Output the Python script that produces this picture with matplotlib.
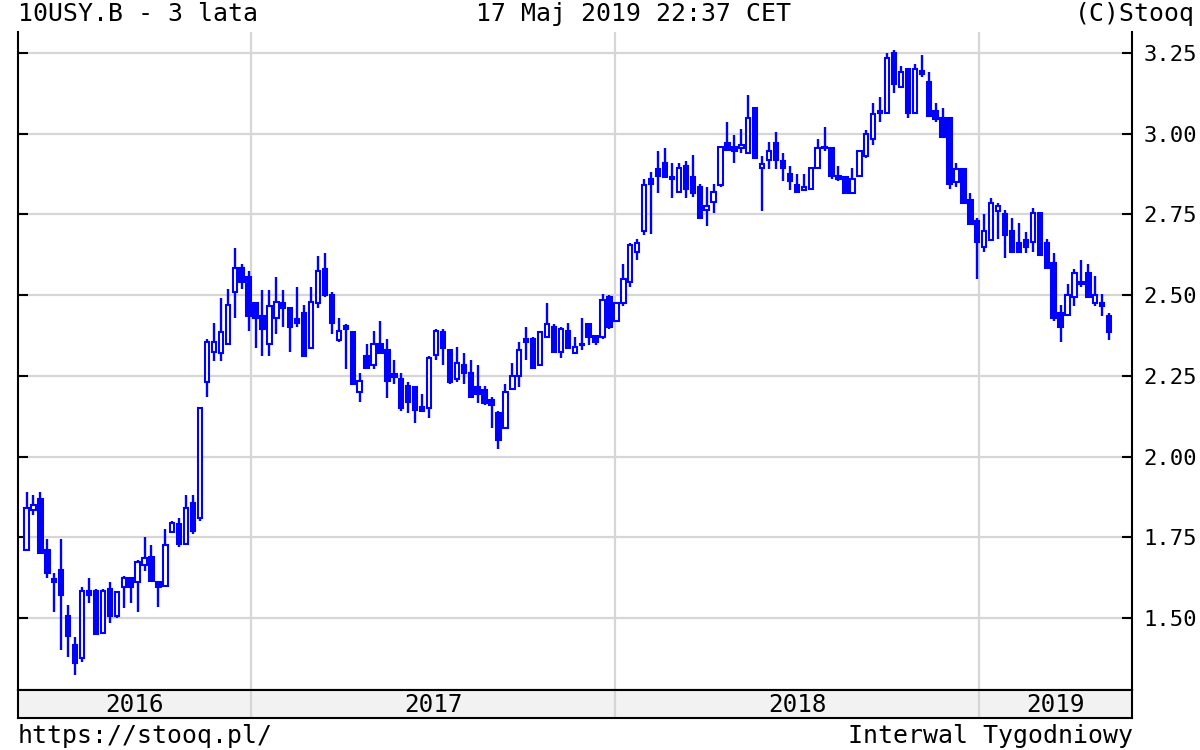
import matplotlib
matplotlib.use("Agg")
import matplotlib.pyplot as plt
import matplotlib.dates as mdates
import numpy as np
import pandas as pd

# weekly candles, 10USY.B (US 10Y yield), 3 years to 17 May 2019
first_week = "2016-05-20"
opens = [
    1.71, 1.835, 1.87, 1.71, 1.62, 1.65, 1.505, 1.415, 1.375, 1.585,
    1.585, 1.455, 1.59, 1.505, 1.595, 1.625, 1.61, 1.665, 1.69, 1.61,
    1.60, 1.765, 1.79, 1.73, 1.855, 1.81, 2.23, 2.325, 2.32, 2.35,
    2.51, 2.585, 2.555, 2.475, 2.435, 2.35, 2.43, 2.475, 2.46, 2.425,
    2.445, 2.335, 2.475, 2.58, 2.50, 2.36, 2.405, 2.385, 2.20, 2.31,
    2.285, 2.35, 2.33, 2.255, 2.24, 2.22, 2.215, 2.155, 2.15, 2.315,
    2.385, 2.33, 2.24, 2.285, 2.26, 2.215, 2.205, 2.175, 2.135, 2.09,
    2.21, 2.25, 2.365, 2.365, 2.285, 2.37, 2.40, 2.325, 2.39, 2.32,
    2.35, 2.41, 2.375, 2.37, 2.495, 2.42, 2.475, 2.54, 2.635, 2.70,
    2.86, 2.89, 2.91, 2.865, 2.82, 2.90, 2.865, 2.835, 2.765, 2.79,
    2.84, 2.97, 2.96, 2.955, 2.94, 3.08, 2.895, 2.92, 2.97, 2.915,
    2.875, 2.84, 2.825, 2.83, 2.895, 2.96, 2.955, 2.87, 2.865, 2.815,
    2.87, 2.93, 2.985, 3.07, 3.065, 3.25, 3.145, 3.20, 3.065, 3.195,
    3.16, 3.07, 3.05, 3.05, 2.85, 2.89, 2.795, 2.73, 2.65, 2.67,
    2.76, 2.75, 2.70, 2.66, 2.67, 2.665, 2.755, 2.66, 2.60, 2.445,
    2.44, 2.495, 2.535, 2.57, 2.475, 2.475, 2.435,
]
highs = [
    1.89, 1.88, 1.89, 1.745, 1.64, 1.745, 1.54, 1.44, 1.597, 1.625,
    1.59, 1.59, 1.61, 1.58, 1.63, 1.625, 1.68, 1.75, 1.725, 1.61,
    1.775, 1.80, 1.81, 1.88, 1.88, 2.15, 2.365, 2.415, 2.49, 2.52,
    2.645, 2.595, 2.575, 2.475, 2.515, 2.515, 2.555, 2.515, 2.46, 2.525,
    2.47, 2.525, 2.62, 2.63, 2.51, 2.43, 2.41, 2.39, 2.26, 2.35,
    2.39, 2.42, 2.365, 2.30, 2.26, 2.23, 2.22, 2.195, 2.31, 2.395,
    2.395, 2.33, 2.34, 2.32, 2.30, 2.285, 2.22, 2.185, 2.14, 2.225,
    2.29, 2.355, 2.40, 2.37, 2.39, 2.475, 2.41, 2.40, 2.415, 2.37,
    2.43, 2.41, 2.375, 2.505, 2.50, 2.475, 2.595, 2.66, 2.675, 2.86,
    2.88, 2.945, 2.955, 2.91, 2.91, 2.915, 2.935, 2.845, 2.835, 2.845,
    2.96, 3.035, 2.995, 3.015, 3.12, 3.08, 2.93, 2.975, 3.005, 2.94,
    2.90, 2.875, 2.875, 2.895, 2.985, 3.02, 2.955, 2.90, 2.865, 2.895,
    2.945, 3.01, 3.095, 3.115, 3.25, 3.26, 3.21, 3.20, 3.215, 3.245,
    3.19, 3.095, 3.08, 3.05, 2.91, 2.89, 2.815, 2.74, 2.75, 2.80,
    2.785, 2.765, 2.74, 2.725, 2.695, 2.77, 2.755, 2.675, 2.63, 2.47,
    2.535, 2.58, 2.61, 2.595, 2.56, 2.505, 2.445,
]
lows = [
    1.71, 1.82, 1.70, 1.625, 1.52, 1.40, 1.38, 1.325, 1.365, 1.545,
    1.45, 1.455, 1.485, 1.50, 1.53, 1.545, 1.52, 1.645, 1.61, 1.535,
    1.60, 1.765, 1.72, 1.73, 1.76, 1.80, 2.185, 2.295, 2.295, 2.35,
    2.43, 2.52, 2.39, 2.335, 2.31, 2.31, 2.38, 2.40, 2.325, 2.40,
    2.31, 2.335, 2.46, 2.495, 2.38, 2.355, 2.27, 2.225, 2.17, 2.27,
    2.27, 2.32, 2.18, 2.225, 2.14, 2.135, 2.105, 2.14, 2.12, 2.30,
    2.285, 2.225, 2.23, 2.225, 2.185, 2.165, 2.16, 2.09, 2.025, 2.09,
    2.21, 2.215, 2.30, 2.275, 2.28, 2.37, 2.325, 2.305, 2.335, 2.32,
    2.33, 2.345, 2.345, 2.365, 2.395, 2.42, 2.465, 2.525, 2.61, 2.685,
    2.69, 2.815, 2.865, 2.80, 2.82, 2.80, 2.805, 2.74, 2.715, 2.755,
    2.835, 2.95, 2.91, 2.94, 2.94, 2.925, 2.76, 2.89, 2.89, 2.855,
    2.825, 2.815, 2.825, 2.83, 2.895, 2.945, 2.86, 2.855, 2.815, 2.815,
    2.87, 2.925, 2.965, 3.035, 3.065, 3.125, 3.145, 3.05, 3.06, 3.175,
    3.055, 3.035, 2.99, 2.83, 2.835, 2.785, 2.72, 2.55, 2.635, 2.67,
    2.675, 2.615, 2.635, 2.635, 2.63, 2.635, 2.625, 2.58, 2.42, 2.355,
    2.44, 2.465, 2.525, 2.495, 2.465, 2.435, 2.36,
]
closes = [
    1.84, 1.85, 1.70, 1.64, 1.61, 1.57, 1.445, 1.36, 1.585, 1.57,
    1.45, 1.585, 1.505, 1.58, 1.625, 1.595, 1.675, 1.685, 1.615, 1.595,
    1.725, 1.795, 1.73, 1.84, 1.77, 2.15, 2.355, 2.355, 2.385, 2.47,
    2.585, 2.54, 2.435, 2.43, 2.395, 2.465, 2.48, 2.46, 2.40, 2.415,
    2.31, 2.48, 2.575, 2.50, 2.415, 2.39, 2.395, 2.225, 2.235, 2.275,
    2.35, 2.32, 2.235, 2.245, 2.15, 2.17, 2.145, 2.14, 2.305, 2.39,
    2.335, 2.23, 2.29, 2.26, 2.185, 2.195, 2.165, 2.16, 2.05, 2.20,
    2.25, 2.33, 2.355, 2.275, 2.385, 2.41, 2.325, 2.395, 2.335, 2.34,
    2.345, 2.37, 2.355, 2.485, 2.40, 2.475, 2.55, 2.655, 2.66, 2.84,
    2.845, 2.87, 2.865, 2.86, 2.895, 2.83, 2.815, 2.74, 2.775, 2.82,
    2.96, 2.95, 2.945, 2.965, 3.05, 2.925, 2.905, 2.945, 2.92, 2.895,
    2.855, 2.82, 2.835, 2.895, 2.955, 2.955, 2.87, 2.86, 2.815, 2.86,
    2.945, 3.00, 3.06, 3.065, 3.235, 3.155, 3.19, 3.065, 3.20, 3.185,
    3.055, 3.045, 2.99, 2.845, 2.89, 2.785, 2.72, 2.665, 2.70, 2.785,
    2.775, 2.685, 2.635, 2.635, 2.65, 2.755, 2.625, 2.585, 2.43, 2.40,
    2.50, 2.57, 2.54, 2.495, 2.50, 2.465, 2.385,
]
price_ticks = [1.50, 1.75, 2.00, 2.25, 2.50, 2.75, 3.00, 3.25]
years = [2016, 2017, 2018, 2019]
# where stooq draws its year separators
year_starts = ["2017-01-01", "2018-01-04", "2019-01-06"]

weeks = pd.date_range(first_week, periods=len(opens), freq="W-FRI")
x = mdates.date2num(weeks)
o = np.array(opens)
h = np.array(highs)
l = np.array(lows)
c = np.array(closes)

BLUE = "#0000ff"
GRID = "#d6d6d6"
plt.rcParams["font.family"] = "DejaVu Sans Mono"

fig = plt.figure(figsize=(12, 7.5), dpi=100)
ax = fig.add_axes([0.015, 0.08, 0.9283, 0.8773])
band = fig.add_axes([0.015, 0.0427, 0.9283, 0.0373], sharex=ax)

xmin = x[0] - 8.6
xmax = x[0] + 1115
ax.set_xlim(xmin, xmax)
ax.set_ylim(1.277, 3.315)

seps = mdates.date2num(pd.to_datetime(year_starts))
for xv in seps:
    ax.axvline(xv, color=GRID, lw=1.6, zorder=0)
    band.axvline(xv, color=GRID, lw=1.6, zorder=0)
for yv in price_ticks:
    ax.axhline(yv, color=GRID, lw=1.6, zorder=0)

# candles: hollow = close above open
up = c >= o
ax.vlines(x, l, h, color=BLUE, lw=1.7, zorder=2)
body_lo = np.minimum(o, c)
body_h = np.maximum(np.abs(c - o), 0.004)
ax.bar(x, body_h, bottom=body_lo, width=4.4,
       color=np.where(up, "white", BLUE), edgecolor=BLUE, linewidth=1.5, zorder=3)

ax.yaxis.tick_right()
ax.set_yticks(price_ticks)
ax.set_yticklabels([f"{v:.2f}" for v in price_ticks], fontsize=16)
ax.tick_params(axis="y", which="both", left=True, right=True, direction="in",
               length=7, width=1.5, pad=8)
ax.set_xticks([])
for side in ["left", "right", "bottom"]:
    ax.spines[side].set_linewidth(1.5)
ax.spines["top"].set_visible(False)

band.set_facecolor("#f2f2f2")
band.set_ylim(0, 1)
band.set_yticks([])
band.set_xticks([])
for sp in band.spines.values():
    sp.set_linewidth(1.5)
edges = [xmin] + list(seps) + [xmax]
for yr, a, b in zip(years, edges[:-1], edges[1:]):
    band.text((a + b) / 2, 0.45, str(yr), ha="center", va="center", fontsize=17.5)

fs = 17.9
fig.text(0.015, 0.981, "10USY.B - 3 lata", ha="left", va="center", fontsize=fs)
fig.text(0.528, 0.981, "17 Maj 2019 22:37 CET", ha="center", va="center", fontsize=fs)
fig.text(0.996, 0.981, "(C)Stooq", ha="right", va="center", fontsize=fs)
fig.text(0.015, 0.019, "https://stooq.pl/", ha="left", va="center", fontsize=fs)
fig.text(0.944, 0.019, "Interwal Tygodniowy", ha="right", va="center", fontsize=fs)

fig.savefig("out.png", dpi=100)
